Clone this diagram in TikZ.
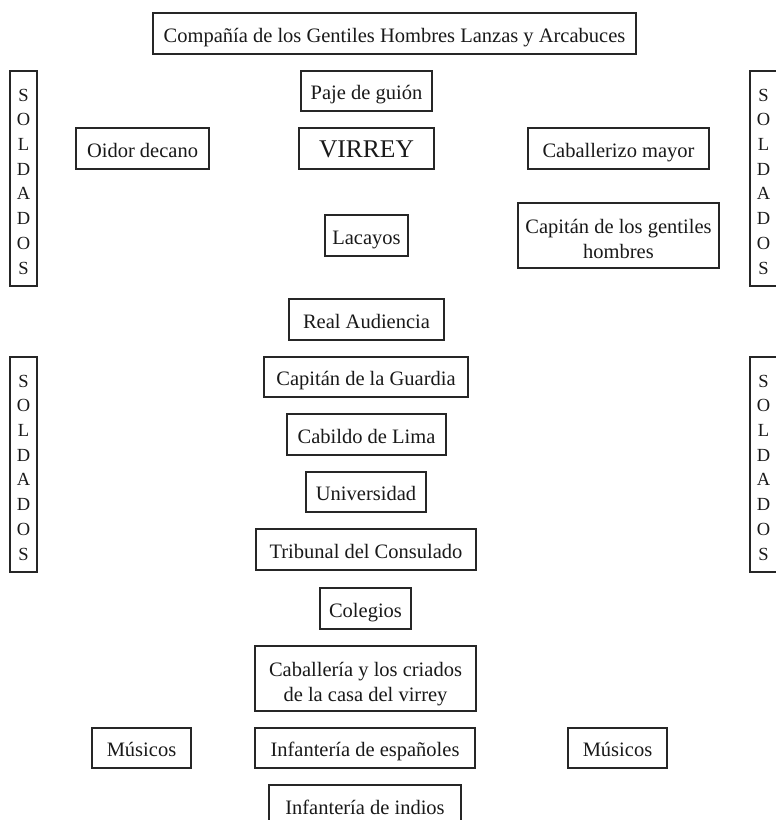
\documentclass[tikz,border=0pt]{standalone}
\usepackage{fontspec}
\setmainfont{Liberation Serif}
\begin{document}
\begin{tikzpicture}[x=1pt,y=-1pt,
  bx/.style={draw=black!85,line width=1.2pt,inner sep=0pt,align=center,
    font=\fontsize{20.5}{25}\selectfont,text=black!90,text height=18pt,text depth=1pt},
  two/.style={text height=46pt,text depth=1pt},
  sold/.style={bx,minimum width=27pt,minimum height=215pt,
    font=\fontsize{18.5}{24.7}\selectfont,text height=195pt,text depth=4pt}]
\useasboundingbox (0,0) rectangle (776,820);
\node[bx,minimum width=483,minimum height=41] (top) at (394.5,33.5) {Compañía de los Gentiles Hombres Lanzas y Arcabuces};
\node[sold] (sl1) at (23.5,178.5) {S\\O\\L\\D\\A\\D\\O\\S};
\node[sold] (sr1) at (763.5,178.5) {S\\O\\L\\D\\A\\D\\O\\S};
\node[sold] (sl2) at (23.5,464.5) {S\\O\\L\\D\\A\\D\\O\\S};
\node[sold] (sr2) at (763.5,464.5) {S\\O\\L\\D\\A\\D\\O\\S};
\node[bx,minimum width=131,minimum height=40] (paje) at (366.5,91) {Paje de guión};
\node[bx,minimum width=133,minimum height=41] (oidor) at (142.5,148.5) {Oidor decano};
\node[bx,minimum width=135,minimum height=41,font=\fontsize{25.5}{28}\selectfont] (virrey) at (366.5,148.5) {VIRREY};
\node[bx,minimum width=181,minimum height=41] (cab) at (618.5,148.5) {Caballerizo mayor};
\node[bx,minimum width=83,minimum height=41] (lac) at (366.5,235.5) {Lacayos};
\node[bx,two,minimum width=201,minimum height=65] (capg) at (618.5,235.5) {Capitán de los gentiles\\hombres};
\node[bx,minimum width=155,minimum height=41] (real) at (366.5,319.5) {Real Audiencia};
\node[bx,minimum width=204,minimum height=40] (capgu) at (366,377) {Capitán de la Guardia};
\node[bx,minimum width=159,minimum height=41] (cabildo) at (366.5,434.5) {Cabildo de Lima};
\node[bx,minimum width=120,minimum height=40] (uni) at (366,492) {Universidad};
\node[bx,minimum width=220,minimum height=41] (trib) at (366,549.5) {Tribunal del Consulado};
\node[bx,minimum width=91,minimum height=41] (col) at (365.5,608.5) {Colegios};
\node[bx,two,minimum width=221,minimum height=65] (caball) at (365.5,678.5) {Caballería y los criados\\de la casa del virrey};
\node[bx,minimum width=99,minimum height=40] (musl) at (141.5,748) {Músicos};
\node[bx,minimum width=220,minimum height=40] (infe) at (365,748) {Infantería de españoles};
\node[bx,minimum width=99,minimum height=40] (musr) at (617.5,748) {Músicos};
\node[bx,minimum width=192,minimum height=41] (infi) at (365,805.5) {Infantería de indios};
\end{tikzpicture}
\end{document}
